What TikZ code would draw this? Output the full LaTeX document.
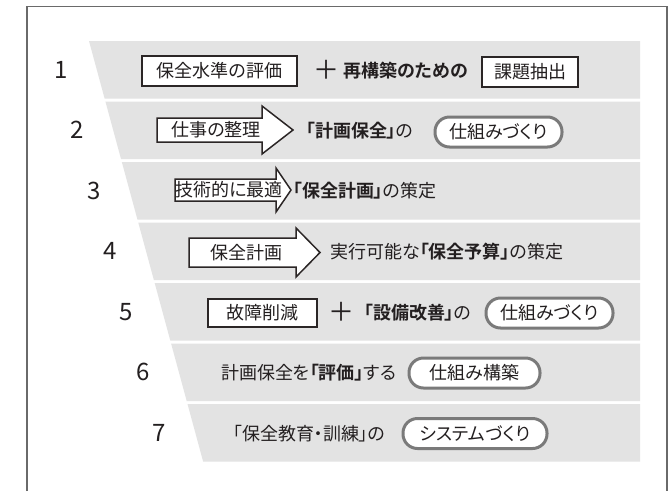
\documentclass[tikz,border=0pt]{standalone}
\usepackage{fontspec}
\setmainfont{Noto Sans CJK JP}[BoldFont={Noto Sans CJK JP Bold}, RawFeature=+palt]
\newfontfamily\numfont{Noto Sans CJK JP}
\definecolor{bandgray}{HTML}{E3E3E3}
\definecolor{framecol}{HTML}{6A6A6A}
\definecolor{boxcol}{HTML}{2B2626}
\definecolor{pillcol}{HTML}{7A7A7A}
\definecolor{txtcol}{HTML}{231F20}
\newcommand\jpf{\fontsize{18pt}{21pt}\selectfont}
\tikzset{
  bandshape/.style={fill=bandgray, draw=none},
  numlab/.style={font=\numfont\fontsize{24pt}{28pt}\selectfont, text=txtcol, inner sep=0},
  sqbox/.style={draw=boxcol, line width=1.6pt, fill=white, inner sep=0, minimum height=30pt, font=\jpf, text=txtcol},
  pill/.style={draw=pillcol, line width=3pt, fill=white, rounded corners=14.5pt, inner sep=0, minimum height=30pt, font=\jpf, text=txtcol},
  txt/.style={anchor=west, inner sep=0, font=\jpf, text=txtcol},
  ctxt/.style={inner sep=0, font=\jpf, text=txtcol},
  plussign/.style={inner sep=0, font=\fontsize{26pt}{28pt}\selectfont, text=txtcol},
  arrowbody/.style={draw=boxcol, line width=1.5pt, fill=white, line join=miter},
  framestyle/.style={draw=framecol, line width=1.5pt}
}
\begin{document}
\begin{tikzpicture}[x=1pt,y=-1pt]
\useasboundingbox (0,0) rectangle (672,491);
\fill[white] (0,0) rectangle (672,491);
% frame
\draw[framestyle] (27,491) -- (27,6.5) -- (667,6.5) -- (667,491);
% bands and numbers
\foreach \i in {0,...,6}{
  \pgfmathsetmacro\yt{41+60.5*\i}
  \pgfmathsetmacro\yb{\yt+57.5}
  \pgfmathsetmacro\xt{89+(\yt-41)*0.2714}
  \pgfmathsetmacro\xb{89+(\yb-41)*0.2714}
  \fill[bandshape] (\xt,\yt) -- (640,\yt) -- (640,\yb) -- (\xb,\yb) -- cycle;
  \pgfmathsetmacro\nx{61+16.4*\i}
  \pgfmathsetmacro\ny{69.75+60.5*\i}
  \pgfmathtruncatemacro\lab{\i+1}
  \node[numlab] (n\lab) at (\nx,\ny) {\lab};
}
% row 1
\node[sqbox, minimum width=155pt] (b1) at (219.5,71) {保全水準の評価};
\node[plussign] (p1) at (326,70) {＋};
\node[txt, font=\jpf\bfseries] (t1) at (343,71) {再構築のための};
\node[sqbox, minimum width=96pt] (c1) at (530,72) {課題抽出};
% row 2
\draw[arrowbody] (157,118) -- (262,118) -- (262,106) -- (293,130) -- (262,154) -- (262,142) -- (157,142) -- cycle;
\node[ctxt] (a2) at (216,130) {仕事の整理};
\node[txt] (t2) at (306,131) {{\bfseries 「計画保全」}の};
\node[pill, minimum width=127pt] (r2) at (498.5,132) {仕組みづくり};
% row 3
\draw[arrowbody] (175,179) -- (276,179) -- (276,168) -- (291,190) -- (276,212) -- (276,201) -- (175,201) -- cycle;
\node[ctxt] (a3) at (229,190) {技術的に最適};
\node[txt] (t3) at (293,191) {{\bfseries 「保全計画」}の策定};
% row 4
\draw[arrowbody] (189,238) -- (296,238) -- (296,228) -- (320,252.5) -- (296,277) -- (296,267) -- (189,267) -- cycle;
\node[ctxt] (a4) at (246.5,252.5) {保全計画};
\node[txt] (t4) at (330,252) {実行可能な{\bfseries 「保全予算」}の策定};
% row 5
\node[sqbox, minimum width=109pt, minimum height=28pt] (b5) at (262.5,313) {故障削減};
\node[plussign] (p5) at (341,312) {＋};
\node[txt] (t5) at (364,313) {{\bfseries 「設備改善」}の};
\node[pill, minimum width=127pt] (r5) at (549.5,313) {仕組みづくり};
% row 6
\node[txt] (t6) at (221,373) {計画保全を{\bfseries 「評価」}する};
\node[pill, minimum width=131pt] (r6) at (474.5,373) {仕組み構築};
% row 7
\node[txt] (t7) at (233,433.5) {「保全教育・訓練」の};
\node[pill, minimum width=144pt] (r7) at (475,433.5) {システムづくり};
\end{tikzpicture}
\end{document}
